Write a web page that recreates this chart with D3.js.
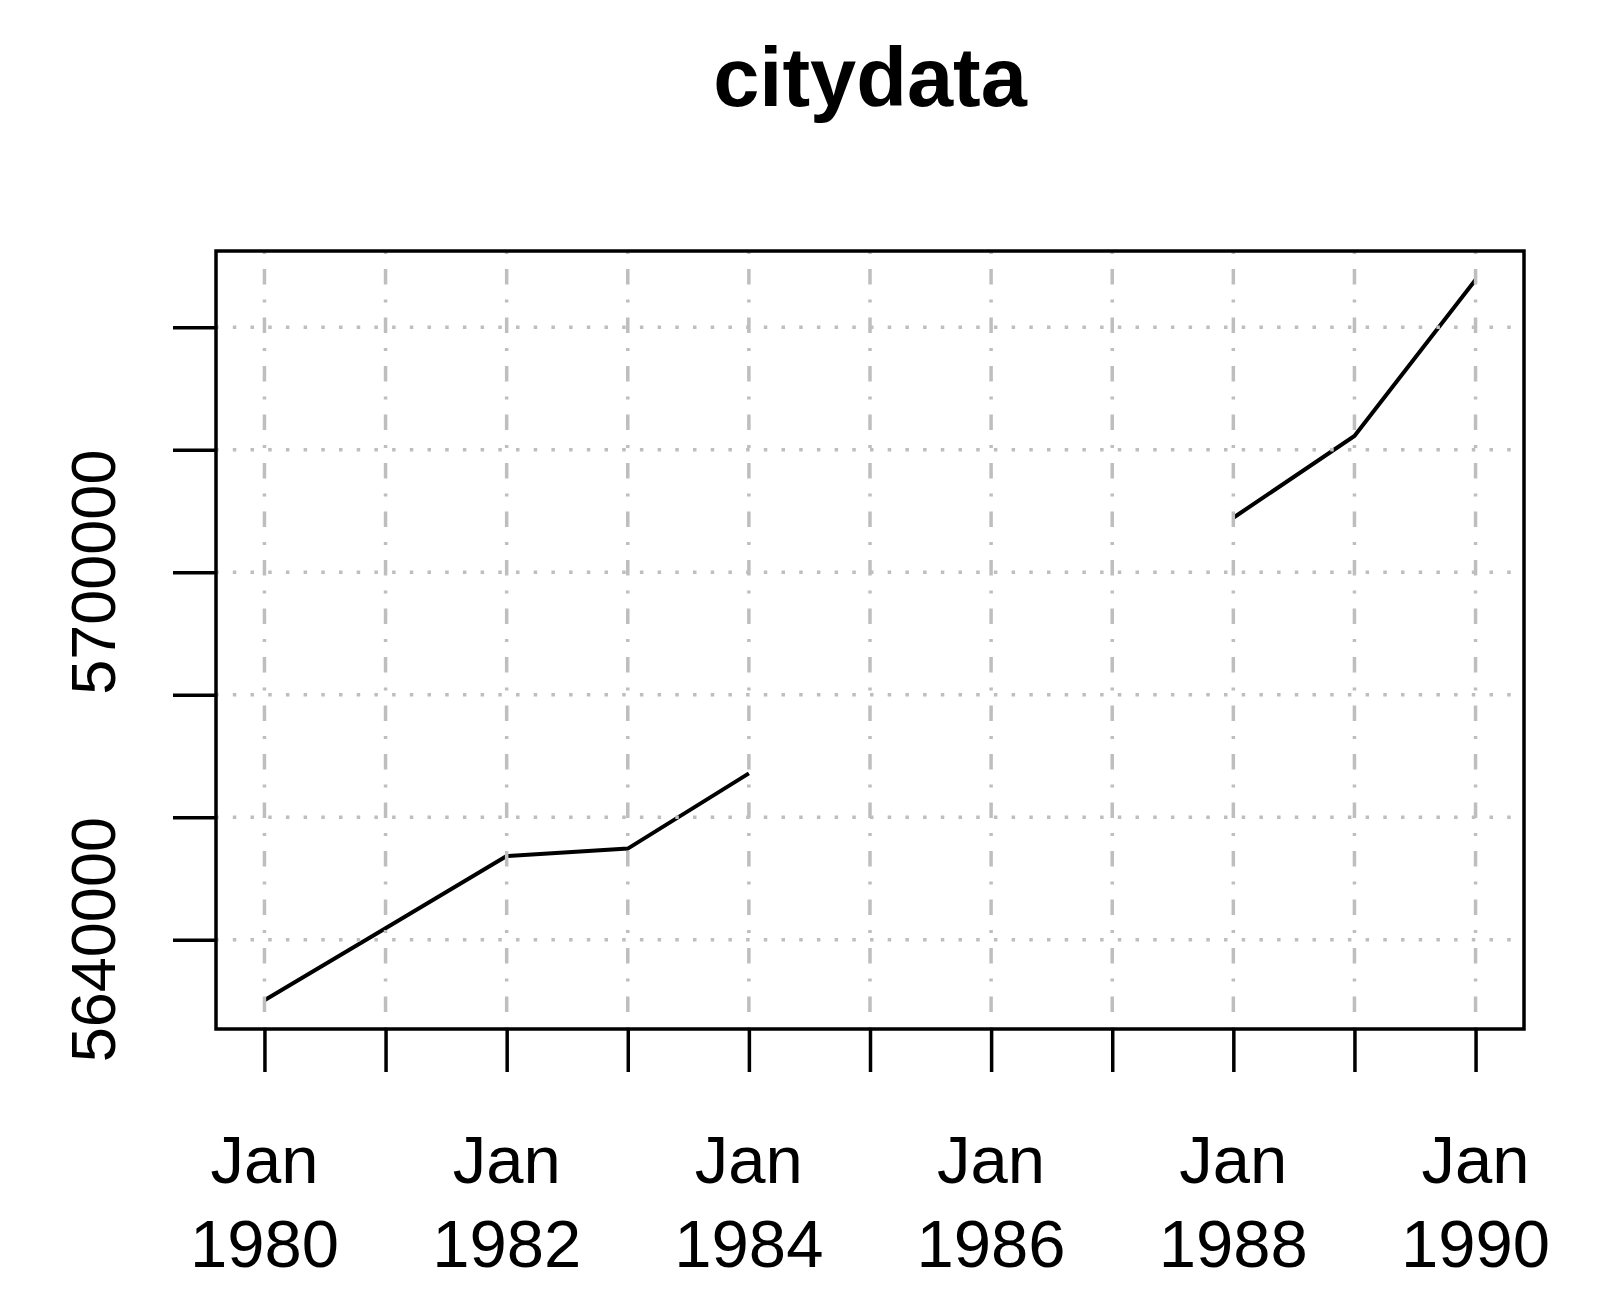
<!DOCTYPE html>
<html>
<head>
<meta charset="utf-8">
<script src="https://d3js.org/d3.v7.min.js"></script>
<style>
	body { margin: 0; background: #fff; }
	svg { display: block; font-family: "Liberation Sans", Arial, Helvetica, sans-serif; }
</style>
</head>
<body>
<svg id="city-plot" width="1614" height="1310" viewBox="0 0 1614 1310"></svg>
<script>

// yearly series, 1985-1987 missing
const years = [1980, 1981, 1982, 1983, 1984, 1985, 1986, 1987, 1988, 1989, 1990];
const city_values = [5630115, 5641850, 5653660, 5654870, 5667160, null, null, null, 5708900, 5722250, 5747750];

const y_ticks = [5640000, 5660000, 5680000, 5700000, 5720000, 5740000];
const y_tick_labels = [5640000, 5700000]; // the rest are dropped by R (overlap)
const x_label_years = [1980, 1982, 1984, 1986, 1988, 1990];
const x_label_month = "Jan";
const chart_title = "citydata";

function whenDocumentLoaded(action) {
	if (document.readyState === "loading") {
		document.addEventListener("DOMContentLoaded", action);
	} else {
		action();
	}
}

function drawPlot(svg_id) {
	const svg = d3.select('#' + svg_id);

	// plot region (the box)
	const box = {left: 216, right: 1524, top: 251, bottom: 1029};
	const tick_len = 43;
	const grid_color = "#bebebe";
	const axis_width = 3.5;

	const data = years.map((y, i) => ({year: y, value: city_values[i]}));

	// R style: data range + 4% on each side
	const x_ext = d3.extent(years);
	const x_pad = (x_ext[1] - x_ext[0]) * 0.04;
	const x_scale = d3.scaleLinear()
		.domain([x_ext[0] - x_pad, x_ext[1] + x_pad])
		.range([box.left, box.right]);

	const y_ext = d3.extent(city_values.filter(v => v != null));
	const y_pad = (y_ext[1] - y_ext[0]) * 0.04;
	const y_scale = d3.scaleLinear()
		.domain([y_ext[0] - y_pad, y_ext[1] + y_pad])
		.range([box.bottom, box.top]);

	// the series, broken where values are missing
	const line_gen = d3.line()
		.defined(d => d.value != null)
		.x(d => x_scale(d.year))
		.y(d => y_scale(d.value));

	svg.append("path")
		.datum(data)
		.attr("d", line_gen)
		.style("fill", "none")
		.style("stroke", "#000")
		.style("stroke-width", 4);

	// grid on top of the line, like R's grid() after plot
	// dotdash verticals, dotted horizontals
	const grid_g = svg.append("g").attr("id", "grid");

	grid_g.selectAll(".vgrid")
		.data(years)
		.enter()
		.append("line")
			.classed("vgrid", true)
			.attr("x1", d => x_scale(d))
			.attr("x2", d => x_scale(d))
			.attr("y1", box.top)
			.attr("y2", box.bottom)
			.style("stroke", grid_color)
			.style("stroke-width", 3.5)
			.style("stroke-dasharray", "15.5,15,3,15")
			.style("stroke-dashoffset", 30.5);

	grid_g.selectAll(".hgrid")
		.data(y_ticks)
		.enter()
		.append("line")
			.classed("hgrid", true)
			.attr("x1", box.left)
			.attr("x2", box.right)
			.attr("y1", d => y_scale(d))
			.attr("y2", d => y_scale(d))
			.style("stroke", grid_color)
			.style("stroke-width", 3.5)
			.style("stroke-dasharray", "3.5,14.2")
			.style("stroke-dashoffset", 0.9);

	// x axis: tick every year, two-line label every other year
	const x_axis = d3.axisBottom(x_scale)
		.tickValues(years)
		.tickSize(tick_len)
		.tickFormat("");

	const x_axis_g = svg.append("g")
		.attr("transform", "translate(0," + box.bottom + ")")
		.call(x_axis);
	x_axis_g.select(".domain").remove();
	x_axis_g.selectAll("line").style("stroke", "#000").style("stroke-width", axis_width);

	const x_labels = svg.append("g")
		.selectAll("text")
		.data(x_label_years)
		.enter()
		.append("text")
			.attr("text-anchor", "middle")
			.attr("x", d => x_scale(d))
			.style("font-size", "67px")
			.style("fill", "#000");
	x_labels.append("tspan")
		.attr("x", d => x_scale(d))
		.attr("y", 1183)
		.text(x_label_month);
	x_labels.append("tspan")
		.attr("x", d => x_scale(d))
		.attr("y", 1267)
		.text(d => d);

	// y axis
	const y_axis = d3.axisLeft(y_scale)
		.tickValues(y_ticks)
		.tickSize(tick_len)
		.tickFormat("");

	const y_axis_g = svg.append("g")
		.attr("transform", "translate(" + box.left + ",0)")
		.call(y_axis);
	y_axis_g.select(".domain").remove();
	y_axis_g.selectAll("line").style("stroke", "#000").style("stroke-width", axis_width);

	svg.append("g")
		.selectAll("text")
		.data(y_tick_labels)
		.enter()
		.append("text")
			.attr("text-anchor", "middle")
			.attr("transform", d => "translate(115," + y_scale(d) + ") rotate(-90)")
			.style("font-size", "63px")
			.style("fill", "#000")
			.text(d => d3.format("d")(d));

	// box around the plot region
	svg.append("rect")
		.attr("x", box.left)
		.attr("y", box.top)
		.attr("width", box.right - box.left)
		.attr("height", box.bottom - box.top)
		.style("fill", "none")
		.style("stroke", "#000")
		.style("stroke-width", axis_width);

	// title
	svg.append("text")
		.attr("x", (box.left + box.right) / 2)
		.attr("y", 106)
		.attr("text-anchor", "middle")
		.style("font-size", "83px")
		.style("font-weight", "bold")
		.text(chart_title);
}

whenDocumentLoaded(() => {
	drawPlot('city-plot');
});
</script>
</body>
</html>
